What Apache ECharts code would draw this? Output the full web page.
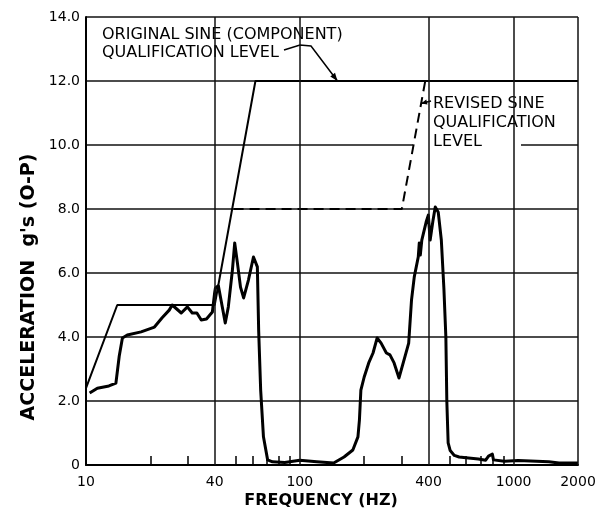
<!DOCTYPE html>
<html>
<head>
<meta charset="utf-8">
<script src="https://cdn.jsdelivr.net/npm/echarts@6/dist/echarts.min.js"></script>
<style>
  html, body { margin: 0; background: #fff; }
  #chart { width: 610px; height: 520px; }
</style>
</head>
<body>
<div id="chart"></div>
<script>
// original sine (component) qualification level
const originalFreq = [10, 14, 40, 62, 2000]
const originalLevel = [2.4, 5.0, 5.0, 12.0, 12.0]

// revised sine qualification level
const revisedFreq = [49, 300, 386]
const revisedLevel = [8.0, 8.0, 12.0]

// measured response
const responseFreq = [10.4, 11.3, 12.8, 13.8, 14.0, 14.3, 14.8, 15.6, 18.1, 20.9, 22.7, 24.5, 25.3, 27.9, 29.8, 31.4, 33.0, 34.6, 36.6, 39.0,
  40.0, 40.3, 41.6, 43.4, 44.8, 46.3, 48.4, 49.6, 51.1, 52.8, 54.6, 57.5, 60.7, 63.3, 64.2, 65.6, 67.6, 70.7, 74.5, 85,
  100, 120, 144, 161, 177, 187, 190, 193, 200, 210, 220, 230, 240, 254, 264, 276, 291, 307, 323, 333,
  343, 358, 362, 366, 372, 390, 399, 407, 420, 430, 444, 459, 472, 482, 487, 494, 505, 528, 556, 615,
  684, 740, 763, 795, 805, 905, 1050, 1460, 1630, 2000]
const responseLevel = [2.25, 2.4, 2.47, 2.56, 2.9, 3.4, 3.97, 4.06, 4.16, 4.31, 4.6, 4.84, 5.0, 4.75, 4.94, 4.75, 4.75, 4.53, 4.56, 4.78,
  5.4, 5.53, 5.6, 4.94, 4.44, 4.94, 6.1, 6.94, 6.3, 5.56, 5.22, 5.78, 6.5, 6.19, 4.2, 2.34, 0.88, 0.16, 0.1, 0.08,
  0.15, 0.1, 0.06, 0.25, 0.47, 0.88, 1.4, 2.34, 2.75, 3.19, 3.5, 3.97, 3.81, 3.5, 3.44, 3.19, 2.72, 3.28, 3.81, 5.16,
  5.88, 6.5, 6.94, 6.56, 7.03, 7.6, 7.81, 7.03, 7.66, 8.06, 7.9, 7.03, 5.5, 4.0, 2.0, 0.69, 0.45, 0.3, 0.25, 0.22,
  0.19, 0.15, 0.28, 0.34, 0.16, 0.12, 0.14, 0.1, 0.06, 0.06]

// axis ticks / grid
const gridFreqs = [40, 100, 400, 1000, 2000]
const labelFreqs = [10, 40, 100, 400, 1000, 2000]
const minorFreqs = [20, 30, 50, 60, 70, 80, 90, 200, 300, 500, 600, 700, 800, 900]

const FONT = 'DejaVu Sans'
const zip = (xs, ys) => xs.map((x, i) => [x, ys[i]])

const chart = echarts.init(document.getElementById('chart'))

const option = {
  animation: false,
  backgroundColor: '#fff',
  grid: { left: 86, right: 32, top: 17, bottom: 55 },
  xAxis: {
    type: 'log',
    logBase: 10,
    min: 10,
    max: 2000,
    axisLine: { lineStyle: { color: '#000', width: 2 } },
    axisTick: {
      customValues: minorFreqs,
      inside: true,
      length: 9,
      lineStyle: { color: '#000', width: 1.5 }
    },
    axisLabel: {
      customValues: labelFreqs,
      formatter: (v) => String(Math.round(v)),
      color: '#000',
      fontFamily: FONT,
      fontSize: 14,
      margin: 10
    },
    splitLine: { show: false }
  },
  yAxis: {
    type: 'value',
    min: 0,
    max: 14,
    interval: 2,
    axisLine: { show: true, lineStyle: { color: '#000', width: 2 } },
    axisTick: { show: false },
    axisLabel: {
      formatter: (v) => (v === 0 ? '0' : v.toFixed(1)),
      color: '#000',
      fontFamily: FONT,
      fontSize: 14,
      margin: 6
    },
    splitLine: { lineStyle: { color: '#111', width: 1.5 } }
  },
  series: [
    {
      // vertical grid lines
      type: 'line',
      data: [],
      z: 1,
      silent: true,
      markLine: {
        silent: true,
        symbol: 'none',
        label: { show: false },
        lineStyle: { color: '#111', width: 1.5, type: 'solid' },
        data: gridFreqs.map((f) => ({ xAxis: f }))
      }
    },
    {
      name: 'original',
      type: 'line',
      data: zip(originalFreq, originalLevel),
      showSymbol: false,
      z: 2,
      lineStyle: { color: '#000', width: 2 }
    },
    {
      name: 'revised',
      type: 'line',
      data: zip(revisedFreq, revisedLevel),
      showSymbol: false,
      z: 2,
      lineStyle: { color: '#000', width: 2, type: [10, 6] }
    },
    {
      name: 'response',
      type: 'line',
      data: zip(responseFreq, responseLevel),
      showSymbol: false,
      z: 2,
      lineStyle: { color: '#000', width: 3, join: 'round' }
    }
  ]
}

chart.setOption(option)

// annotation arrows point at the qualification lines
const tip1 = chart.convertToPixel({ gridIndex: 0 }, [150, 12])
const tip2 = chart.convertToPixel({ gridIndex: 0 }, [369, 11.3])

function arrowHead(from, to, len, half) {
  const dx = to[0] - from[0]
  const dy = to[1] - from[1]
  const d = Math.hypot(dx, dy)
  const ux = dx / d
  const uy = dy / d
  const bx = to[0] - ux * len
  const by = to[1] - uy * len
  return [to, [bx - uy * half, by + ux * half], [bx + uy * half, by - ux * half]]
}

const lead1 = [[284, 50], [300, 45], [311, 46], tip1]
const lead2 = [[431, 101], tip2]

const textStyle = { fill: '#000', font: '16px "' + FONT + '"', textVerticalAlign: 'middle' }

chart.setOption({
  graphic: [
    // white boxes behind the notes
    { type: 'rect', z: 1.5, silent: true, shape: { x: 92, y: 19, width: 258, height: 49 }, style: { fill: '#fff' } },
    { type: 'rect', z: 1.5, silent: true, shape: { x: 413, y: 86, width: 108, height: 82 }, style: { fill: '#fff' } },
    { type: 'text', z: 3, x: 102, y: 35, style: { ...textStyle, text: 'ORIGINAL SINE (COMPONENT)' } },
    { type: 'text', z: 3, x: 102, y: 53, style: { ...textStyle, text: 'QUALIFICATION LEVEL' } },
    { type: 'polyline', z: 3, shape: { points: lead1 }, style: { stroke: '#000', lineWidth: 1.5, fill: null } },
    { type: 'polygon', z: 3, shape: { points: arrowHead(lead1[2], tip1, 8, 3) }, style: { fill: '#000' } },
    { type: 'text', z: 3, x: 433, y: 104, style: { ...textStyle, text: 'REVISED SINE' } },
    { type: 'text', z: 3, x: 433, y: 123, style: { ...textStyle, text: 'QUALIFICATION' } },
    { type: 'text', z: 3, x: 433, y: 142, style: { ...textStyle, text: 'LEVEL' } },
    { type: 'polyline', z: 3, shape: { points: lead2 }, style: { stroke: '#000', lineWidth: 1.5, fill: null } },
    { type: 'polygon', z: 3, shape: { points: arrowHead(lead2[0], tip2, 6, 2.5) }, style: { fill: '#000' } },
    // axis names
    {
      type: 'text', z: 3, x: 321, y: 501,
      style: { fill: '#000', font: 'bold 16px "' + FONT + '"', text: 'FREQUENCY (HZ)', textAlign: 'center', textVerticalAlign: 'middle' }
    },
    {
      type: 'text', z: 3, x: 29, y: 287, rotation: Math.PI / 2,
      style: { fill: '#000', font: 'bold 19px "' + FONT + '"', text: "ACCELERATION  g's (O-P)", textAlign: 'center', textVerticalAlign: 'middle' }
    }
  ]
})

window.addEventListener('resize', () => chart.resize())
</script>
</body>
</html>
